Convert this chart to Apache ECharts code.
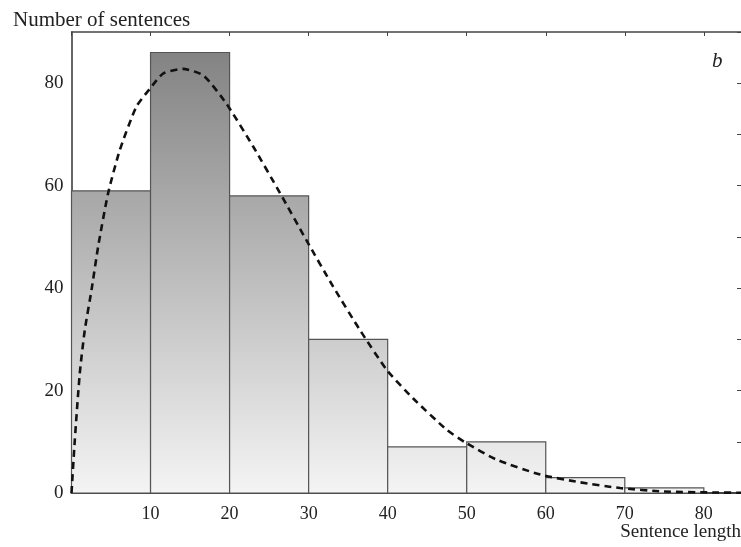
<!DOCTYPE html>
<html>
<head>
<meta charset="utf-8">
<script src="https://cdn.jsdelivr.net/npm/echarts@6/dist/echarts.min.js"></script>
<style>
  html, body { margin: 0; padding: 0; background: #fff; }
  #chart { width: 741px; height: 547px; }
</style>
</head>
<body>
<div id="chart"></div>
<script>
// Histogram bins of sentence length (words) and the number of sentences in each
const binStarts = [0, 10, 20, 30, 40, 50, 60, 70];
const binEnds   = [10, 20, 30, 40, 50, 60, 70, 80];
const binCounts = [59, 86, 58, 30, 9, 10, 3, 1];

// Fitted density curve, scaled to counts
const curveX = [0, 0.42, 1.05, 1.68, 2.53, 3.37, 4.63, 6.1, 8.2, 9.9, 11.6, 14.1, 16.7, 19.6, 23.0, 26.4, 29.7, 33.1, 36.5, 39.9, 43.2, 47.5, 50.0, 53.8, 59.3, 64.3, 69.4, 74.9, 81.2, 84.7];
const curveY = [0, 10.4, 23.4, 31.8, 39.6, 48.1, 58.5, 66.9, 75.4, 78.9, 81.9, 82.8, 81.5, 76.0, 67.6, 58.5, 49.4, 40.3, 31.8, 24.0, 18.5, 12.3, 9.7, 6.5, 3.6, 2.1, 0.97, 0.3, 0.1, 0.05];

// Axis tick labels
const xTickValues = [10, 20, 30, 40, 50, 60, 70, 80];
const yTickValues = [0, 20, 40, 60, 80];

const SERIF = '"Liberation Serif", "DejaVu Serif", serif';

const chart = echarts.init(document.getElementById('chart'), null, { renderer: 'canvas' });

const gridTop = 32, gridBottom = 54;
const plotBottomPx = 547 - gridBottom;

// Shading shared by all bars: dark at the top of the plot, pale at the baseline
const barFill = new echarts.graphic.LinearGradient(0, gridTop, 0, plotBottomPx, [
  { offset: 0, color: '#7e7e7e' },
  { offset: 1, color: '#f4f4f4' }
], true);

const histData = binStarts.map((s, i) => [s, binEnds[i], binCounts[i]]);
const curveData = curveX.map((x, i) => [x, curveY[i]]);

chart.setOption({
  animation: false,
  backgroundColor: '#ffffff',
  title: [
    {
      text: 'Number of sentences',
      left: 13, top: 10, padding: 0,
      textStyle: { fontFamily: SERIF, fontSize: 21, fontWeight: 'normal', color: '#222' }
    },
    {
      text: 'Sentence length',
      right: 0, bottom: 5, padding: 0,
      textStyle: { fontFamily: SERIF, fontSize: 19, fontWeight: 'normal', color: '#222' }
    }
  ],
  graphic: [
    {
      type: 'text', left: 712, top: 51,
      style: { text: 'b', font: 'italic 21px ' + SERIF, fill: '#222' }
    }
  ],
  grid: { left: 71.5, right: 0, top: gridTop, bottom: gridBottom, containLabel: false },
  xAxis: [
    {
      type: 'value', position: 'bottom', min: 0, max: 84.7, interval: 10,
      axisLine: { show: true, onZero: false, lineStyle: { color: '#444', width: 2 } },
      axisTick: { show: false },
      splitLine: { show: false },
      axisLabel: {
        margin: 12, showMinLabel: false, showMaxLabel: false,
        fontFamily: SERIF, fontSize: 18, color: '#222',
        formatter: v => (xTickValues.indexOf(v) >= 0 ? String(v) : '')
      }
    },
    {
      type: 'value', position: 'top', min: 0, max: 84.7, interval: 10,
      axisLine: { show: true, onZero: false, lineStyle: { color: '#444', width: 1.5 } },
      axisTick: { show: true, inside: true, length: 4, lineStyle: { color: '#444' } },
      axisLabel: { show: false },
      splitLine: { show: false }
    }
  ],
  yAxis: [
    {
      type: 'value', position: 'left', min: 0, max: 90, interval: 10,
      axisLine: { show: true, onZero: false, lineStyle: { color: '#333', width: 1.5 } },
      axisTick: { show: false },
      splitLine: { show: false },
      axisLabel: {
        margin: 8, fontFamily: SERIF, fontSize: 19, color: '#222',
        formatter: v => (yTickValues.indexOf(v) >= 0 ? String(v) : '')
      }
    },
    {
      type: 'value', position: 'right', min: 0, max: 90, interval: 10,
      axisLine: { show: false, onZero: false },
      axisTick: { show: true, inside: true, length: 4, lineStyle: { color: '#444' } },
      axisLabel: { show: false },
      splitLine: { show: false }
    }
  ],
  series: [
    {
      type: 'custom',
      xAxisIndex: 0, yAxisIndex: 0,
      z: 1,
      data: histData,
      encode: { x: [0, 1], y: 2 },
      renderItem: function (params, api) {
        const topLeft = api.coord([api.value(0), api.value(2)]);
        const bottomRight = api.coord([api.value(1), 0]);
        return {
          type: 'rect',
          shape: {
            x: topLeft[0], y: topLeft[1],
            width: bottomRight[0] - topLeft[0],
            height: bottomRight[1] - topLeft[1]
          },
          style: { fill: barFill, stroke: '#555', lineWidth: 1.2 }
        };
      }
    },
    {
      type: 'line',
      xAxisIndex: 0, yAxisIndex: 0,
      z: 5,
      data: curveData,
      smooth: 0.2,
      showSymbol: false,
      lineStyle: { color: '#111', width: 2.6, type: [7, 5] }
    }
  ]
});
</script>
</body>
</html>
